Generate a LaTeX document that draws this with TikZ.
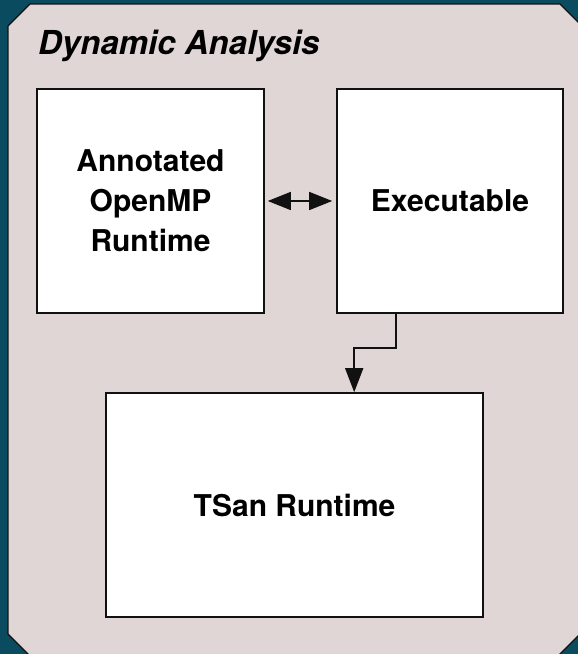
\documentclass[tikz,border=0pt]{standalone}
\usepackage{fontspec}
\setmainfont{TeX Gyre Heros}
\usetikzlibrary{arrows.meta}
\definecolor{teal0}{HTML}{0A4B5F}
\definecolor{panel}{HTML}{E1D6D6}
\definecolor{edge}{HTML}{111111}
\tikzset{
  box/.style={draw=edge, line width=1.6pt, fill=white, align=center, inner sep=0pt,
    font=\fontsize{30}{40}\selectfont\bfseries},
  arr/.style={draw=edge, line width=1.5pt, -{Triangle[length=24pt,width=18pt]}},
  darr/.style={draw=edge, line width=1.5pt, {Triangle[length=23pt,width=18pt]}-{Triangle[length=23pt,width=18pt]}},
}
\begin{document}
\begin{tikzpicture}[x=1pt,y=-1pt]
\useasboundingbox (0,0) rectangle (578,654);
\clip (0,0) rectangle (578,654);
\fill[teal0] (0,0) rectangle (578,654);
\filldraw[fill=panel, draw=edge, line width=1.2pt]
  (8,26) -- (30,4) -- (560,4) -- (588,32) -- (588,626) -- (552,662) -- (36,662) -- (8,634) -- cycle;
\node[anchor=base west, inner sep=0pt, font=\fontsize{33}{35}\selectfont\bfseries\itshape] (title) at (38,54) {Dynamic Analysis};
\node[box, minimum width=227pt, minimum height=224pt] (ann) at (150.5,201) {Annotated\\OpenMP\\Runtime};
\node[box, minimum width=226pt, minimum height=224pt] (exe) at (450,201) {Executable};
\node[box, minimum width=377pt, minimum height=224pt] (tsan) at (294.5,505) {TSan Runtime};
\draw[darr, shorten <=3pt, shorten >=4pt] (ann) -- (exe);
\draw[arr] ([xshift=60pt]exe.south west) -- ++(0,34) -| ([xshift=249pt]tsan.north west);
\end{tikzpicture}
\end{document}
